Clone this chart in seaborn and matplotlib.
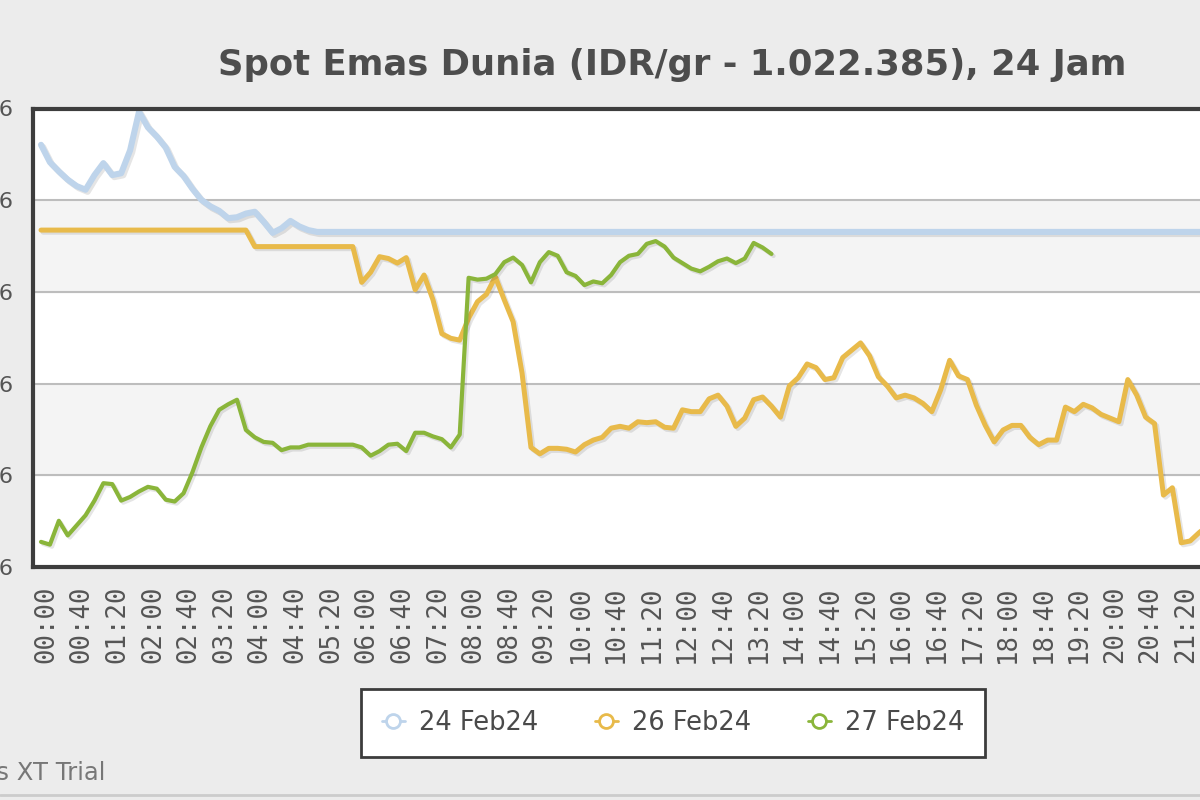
import matplotlib
matplotlib.use("Agg")
import matplotlib.pyplot as plt
import matplotlib.patheffects as pe
from matplotlib.lines import Line2D
from matplotlib.transforms import ScaledTranslation
import pandas as pd
import seaborn as sns

# -------------------------------
# Data (harga per 10 menit, IDR/gr)
# -------------------------------
waktu = list(pd.date_range("2024-02-24 00:00", periods=144, freq="10min").strftime("%H:%M"))

harga_24feb = [
    1023590, 1023400, 1023300, 1023210, 1023140, 1023100, 1023260, 1023390, 1023260, 1023280, 1023530, 1023950,
    1023780, 1023680, 1023560, 1023350, 1023250, 1023110, 1022990, 1022920, 1022870, 1022790, 1022800, 1022840,
    1022860, 1022750, 1022630, 1022680, 1022760, 1022700, 1022660, 1022640, 1022640, 1022640, 1022640, 1022640,
    1022640, 1022640, 1022640, 1022640, 1022640, 1022640, 1022640, 1022640, 1022640, 1022640, 1022640, 1022640,
    1022640, 1022640, 1022640, 1022640, 1022640, 1022640, 1022640, 1022640, 1022640, 1022640, 1022640, 1022640,
    1022640, 1022640, 1022640, 1022640, 1022640, 1022640, 1022640, 1022640, 1022640, 1022640, 1022640, 1022640,
    1022640, 1022640, 1022640, 1022640, 1022640, 1022640, 1022640, 1022640, 1022640, 1022640, 1022640, 1022640,
    1022640, 1022640, 1022640, 1022640, 1022640, 1022640, 1022640, 1022640, 1022640, 1022640, 1022640, 1022640,
    1022640, 1022640, 1022640, 1022640, 1022640, 1022640, 1022640, 1022640, 1022640, 1022640, 1022640, 1022640,
    1022640, 1022640, 1022640, 1022640, 1022640, 1022640, 1022640, 1022640, 1022640, 1022640, 1022640, 1022640,
    1022640, 1022640, 1022640, 1022640, 1022640, 1022640, 1022640, 1022640, 1022640, 1022640, 1022640, 1022640,
    1022640, 1022640, 1022640, 1022640, 1022640, 1022640, 1022640, 1022640, 1022640, 1022640, 1022640, 1022640,
]

harga_26feb = [
    1022660, 1022660, 1022660, 1022660, 1022660, 1022660, 1022660, 1022660, 1022660, 1022660, 1022660, 1022660,
    1022660, 1022660, 1022660, 1022660, 1022660, 1022660, 1022660, 1022660, 1022660, 1022660, 1022660, 1022660,
    1022480, 1022480, 1022480, 1022480, 1022480, 1022480, 1022480, 1022480, 1022480, 1022480, 1022480, 1022480,
    1022090, 1022200, 1022370, 1022350, 1022300, 1022360, 1022010, 1022170, 1021900, 1021530, 1021480, 1021460,
    1021700, 1021880, 1021960, 1022150, 1021900, 1021660, 1021100, 1020290, 1020220, 1020280, 1020280, 1020270,
    1020240, 1020320, 1020370, 1020400, 1020500, 1020520, 1020500, 1020570, 1020560, 1020570, 1020510, 1020500,
    1020700, 1020680, 1020680, 1020820, 1020860, 1020740, 1020520, 1020610, 1020810, 1020840, 1020740, 1020620,
    1020960, 1021050, 1021200, 1021160, 1021030, 1021050, 1021270, 1021350, 1021430, 1021290, 1021060, 1020960,
    1020830, 1020860, 1020830, 1020770, 1020680, 1020920, 1021240, 1021070, 1021030, 1020750, 1020530, 1020350,
    1020480, 1020530, 1020530, 1020400, 1020320, 1020370, 1020370, 1020730, 1020680, 1020760, 1020720, 1020650,
    1020610, 1020570, 1021030, 1020860, 1020620, 1020550, 1019770, 1019850, 1019250, 1019270, 1019360, 1019440,
    1019500,
]

harga_27feb = [
    1019260, 1019230, 1019490, 1019330, 1019440, 1019550, 1019710, 1019900, 1019890, 1019710, 1019750, 1019810,
    1019860, 1019840, 1019720, 1019700, 1019790, 1020020, 1020290, 1020520, 1020700, 1020760, 1020810, 1020480,
    1020400, 1020350, 1020340, 1020260, 1020290, 1020290, 1020320, 1020320, 1020320, 1020320, 1020320, 1020320,
    1020290, 1020200, 1020250, 1020320, 1020330, 1020250, 1020450, 1020450, 1020410, 1020380, 1020290, 1020430,
    1022140, 1022120, 1022130, 1022180, 1022310, 1022360, 1022280, 1022090, 1022310, 1022420, 1022380, 1022200,
    1022160, 1022060, 1022100, 1022080, 1022170, 1022310, 1022380, 1022400, 1022510, 1022540, 1022480, 1022360,
    1022300, 1022240, 1022210, 1022260, 1022320, 1022350, 1022300, 1022350, 1022520, 1022470, 1022400,
]

tanggal = ["24 Feb24", "26 Feb24", "27 Feb24"]
warna = ["#bed4eb", "#e8ba4a", "#8ab53a"]
tebal = [4.4, 3.6, 3.0]

y_ticks = [1018986, 1019986, 1020986, 1021986, 1022986, 1023986]
y_labels = ["1.018.986", "1.019.986", "1.020.986", "1.021.986", "1.022.986", "1.023.986"]

rows = []
for tgl, seri in zip(tanggal, [harga_24feb, harga_26feb, harga_27feb]):
    for i, h in enumerate(seri):
        rows.append({"idx": i, "waktu": waktu[i], "harga": h, "tanggal": tgl})
df = pd.DataFrame(rows)

# -------------------------------
# Plot
# -------------------------------
sns.set_style("white")
plt.rcParams["font.family"] = ["DejaVu Sans"]

fig = plt.figure(figsize=(12, 8), dpi=100, facecolor="#ececec")
ax = fig.add_axes([33 / 1200, 233 / 800, 1289 / 1200, 458.5 / 800])
ax.set_facecolor("white")

sns.lineplot(data=df, x="idx", y="harga", hue="tanggal", hue_order=tanggal,
             palette=dict(zip(tanggal, warna)), errorbar=None, legend=False, ax=ax)

for line, lw in zip(list(ax.lines), tebal):
    line.set_linewidth(lw)
    line.set_solid_joinstyle("round")
    line.set_path_effects([pe.SimpleLineShadow(offset=(1.5, -1.5), alpha=0.10), pe.Normal()])

# bands + grid
ax.axhspan(y_ticks[1], y_ticks[2], color="#f4f4f4", zorder=0)
ax.axhspan(y_ticks[3], y_ticks[4], color="#f4f4f4", zorder=0)
for yt in y_ticks[1:-1]:
    ax.axhline(yt, color="#bdbdbd", lw=1.5, zorder=0.5)

ax.set_xlim(-0.9, 143.8)
ax.set_ylim(y_ticks[0], y_ticks[-1])
ax.set_yticks(y_ticks, y_labels)
ax.set_xticks(range(0, 144, 4), waktu[::4])
ax.tick_params(axis="y", length=0, pad=14, labelsize=16, labelcolor="#555555")
ax.tick_params(axis="x", length=0, pad=13, labelsize=18.5, labelcolor="#555555", rotation=90)
geser = ScaledTranslation(5 / 100, 0, fig.dpi_scale_trans)
for lbl in ax.get_xticklabels():
    lbl.set_family("DejaVu Sans Mono")
    lbl.set_transform(lbl.get_transform() + geser)
ax.set_xlabel("")
ax.set_ylabel("")

for sp in ax.spines.values():
    sp.set_color("#3d3d3d")
    sp.set_linewidth(3)

fig.text(672 / 1200, 1 - 65 / 800, "Spot Emas Dunia (IDR/gr - 1.022.385), 24 Jam",
         ha="center", va="center", fontsize=25.5, fontweight="bold", color="#4d4d4d")

handles = [Line2D([0], [0], color=c, lw=2, marker="o", markersize=10,
                  markerfacecolor="white", markeredgewidth=2) for c in warna]
leg = fig.legend(handles, tanggal, loc="center", bbox_to_anchor=(673 / 1200, 1 - 723 / 800),
                 ncol=3, frameon=True, fancybox=False, shadow=False, fontsize=18.5,
                 handlelength=0.9, handletextpad=0.55, columnspacing=2.2, borderpad=0.8,
                 borderaxespad=0)
leg.get_frame().set_edgecolor("#3c3c3c")
leg.get_frame().set_linewidth(2)
leg.get_frame().set_facecolor("white")
leg.get_frame().set_alpha(1)
leg._legend_box.sep = 0
for t in leg.get_texts():
    t.set_color("#4a4a4a")

fig.text(105 / 1200, 1 - 773 / 800, "FusionCharts XT Trial", ha="right", va="center",
         fontsize=17.5, color="#777777")
fig.add_artist(Line2D([0, 1], [5 / 800, 5 / 800], color="#cccccc", lw=2, transform=fig.transFigure))

fig.savefig("out.png", dpi=100, facecolor=fig.get_facecolor())
